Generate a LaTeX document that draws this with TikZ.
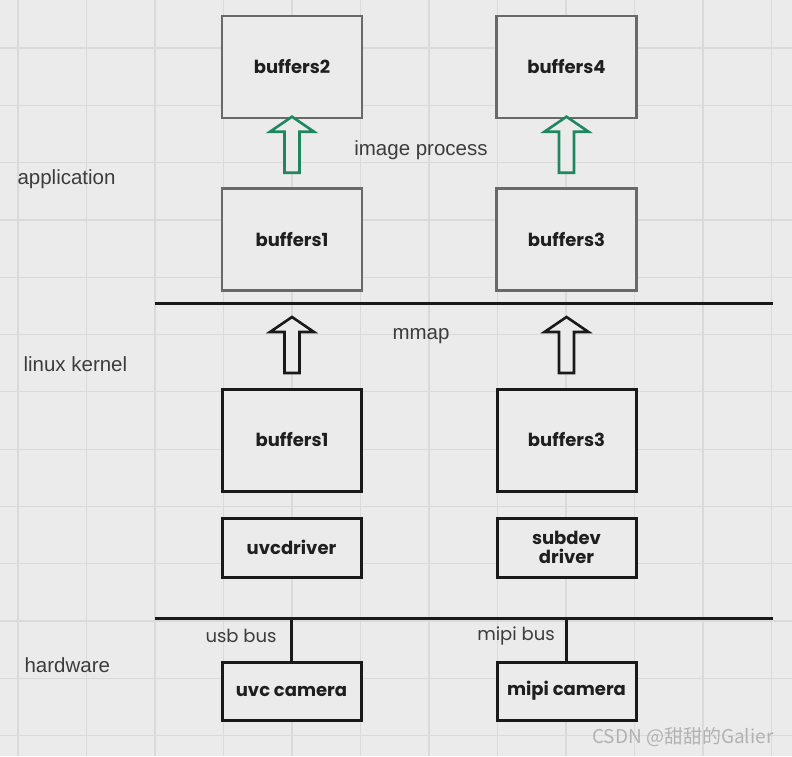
\documentclass[tikz,border=0pt]{standalone}
\usepackage{fontspec}
\setmainfont{Liberation Sans}
\newfontfamily\boxfont{Poppins}
\newfontfamily\cjkfont{Noto Sans CJK SC}
\usepackage{tikz}

\definecolor{bggray}{RGB}{235,235,235}
\definecolor{gridgray}{RGB}{218,218,218}
\definecolor{appgray}{RGB}{105,105,105}
\definecolor{procgreen}{RGB}{30,135,95}
\definecolor{labelgray}{RGB}{60,60,60}

\tikzset{
  gridline/.style={gridgray, line width=1.2pt},
  appbox/.style={draw=appgray, fill=bggray, line width=2.6pt, minimum width=140, minimum height=102,
    font=\boxfont\bfseries\fontsize{18}{19}\selectfont, text=black!88},
  kbox/.style={draw=black!90, fill=bggray, line width=3pt, minimum width=139, minimum height=102,
    font=\boxfont\bfseries\fontsize{18}{19}\selectfont, text=black!88, align=center},
  layer/.style={anchor=west, text=labelgray, font=\fontsize{20.5}{22}\selectfont},
  note/.style={text=labelgray, font=\fontsize{20.5}{22}\selectfont},
  bus/.style={text=labelgray, font=\boxfont\fontsize{18}{19}\selectfont},
  garrow/.style={draw=procgreen, fill=bggray, line width=2.6pt, line join=miter},
  karrow/.style={draw=black!90, fill=bggray, line width=2.6pt, line join=miter},
  sep/.style={draw=black!90, line width=3pt}
}

\begin{document}
\begin{tikzpicture}[x=1pt,y=-1pt]
\useasboundingbox (0,0) rectangle (792,756);
\fill[bggray] (0,0) rectangle (792,756);
% grid
\foreach \x in {18,86.5,...,790} \draw[gridline] (\x,0)--(\x,756);
\foreach \y in {48,105.3,...,756} \draw[gridline] (0,\y)--(792,\y);

% layer names
\node[layer] (app) at (14,179) {application};
\node[layer] (lk) at (20,364) {linux kernel};
\node[layer] (hw) at (21,665) {hardware};

% application
\node[appbox] (buf2) at (292,67) {buffers2};
\node[appbox] (buf4) at (566.5,67) {buffers4};
\node[appbox] (ubuf1) at (292,239.5) {buffers1};
\node[appbox] (ubuf3) at (566.5,239.5) {buffers3};
\node[note] (proc) at (421,150) {image process};

% kernel
\coordinate (kl) at (155,303);
\coordinate (kr) at (773,303);
\draw[sep] (kl)--(kr);
\node[note] (mmap) at (421,336) {mmap};
\node[kbox] (kbuf1) at (292,440) {buffers1};
\node[kbox] (kbuf3) at (566.5,440) {buffers3};
\node[kbox,minimum height=59] (uvcdrv) at (291.5,547.5) {uvcdriver};
\node[kbox,minimum height=59] (subdrv) at (566.5,547.5) {subdev\\driver};

% hardware
\coordinate (bl) at (155,618);
\coordinate (br) at (773,618);
\draw[sep] (bl)--(br);
\node[kbox,minimum height=58] (uvccam) at (291.5,691) {uvc camera};
\node[kbox,minimum height=58] (mipicam) at (566.5,691) {mipi camera};
\draw[sep] (uvccam.north)--(uvccam.north |- bl);
\draw[sep] (mipicam.north)--(mipicam.north |- bl);
\node[bus] (usb) at (241,636) {usb bus};
\node[bus] (mipi) at (516,636) {mipi bus};

% block arrows
\foreach \n/\s in {ubuf1/garrow, ubuf3/garrow, kbuf1/karrow, kbuf3/karrow}
  \draw[\s, shift={(\n.north)}, yshift=14.5pt]
    (-7.5,0)--(-7.5,-41)--(-22,-41)--(0,-56)--(22,-41)--(7.5,-41)--(7.5,0)--cycle;

\node[anchor=east, text=black!30, font=\cjkfont\fontsize{19}{21}\selectfont] (mark) at (777,737) {CSDN @甜甜的Galier};
\end{tikzpicture}
\end{document}
